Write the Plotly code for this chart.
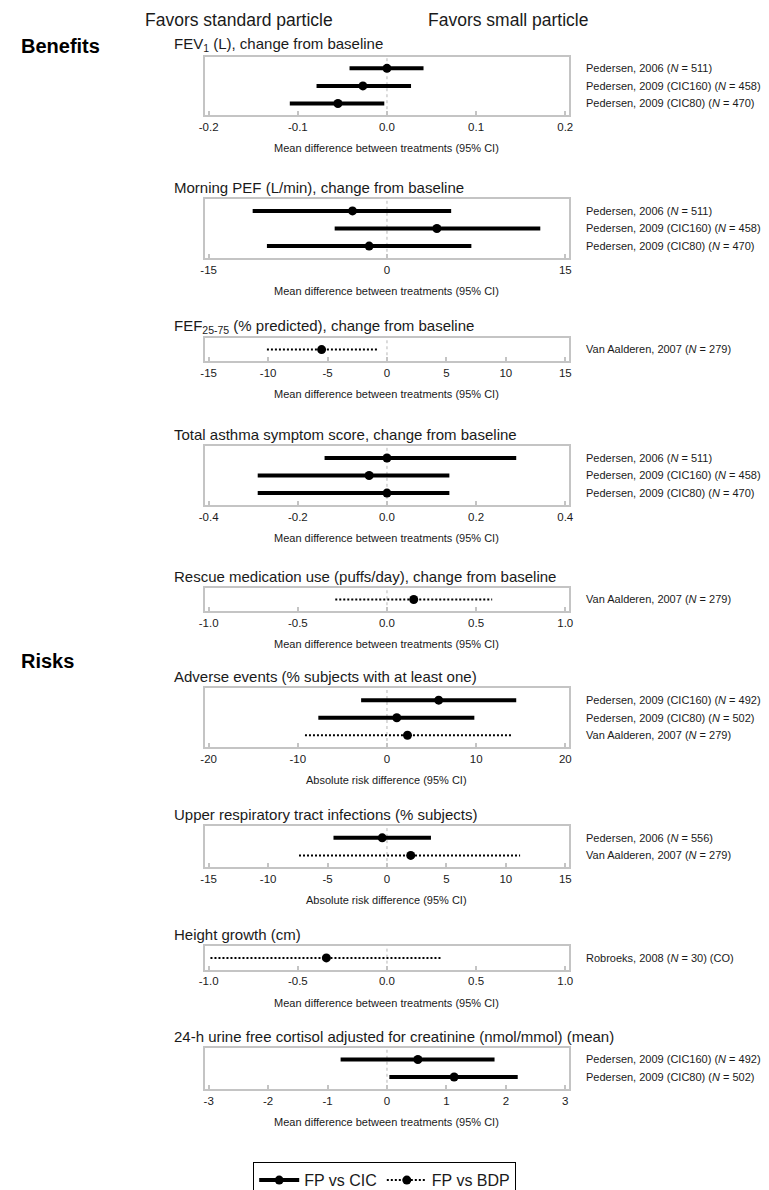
import plotly.graph_objects as go

W, H = 769, 1190
FONT = "Liberation Sans, Arial, sans-serif"
INK = "#1a1a1a"
FRAME = "#c4c4c4"

# ---------------- data ----------------
fev1_labels = ["Pedersen, 2006 (<i>N</i> = 511)",
               "Pedersen, 2009 (CIC160) (<i>N</i> = 458)",
               "Pedersen, 2009 (CIC80) (<i>N</i> = 470)"]
fev1_mean = [0.0, -0.027, -0.055]
fev1_low = [-0.042, -0.079, -0.109]
fev1_high = [0.041, 0.027, -0.003]
fev1_cmp = ["CIC", "CIC", "CIC"]
fev1_ticks = [-0.2, -0.1, 0.0, 0.1, 0.2]

pef_labels = fev1_labels
pef_mean = [-2.9, 4.2, -1.5]
pef_low = [-11.3, -4.4, -10.1]
pef_high = [5.4, 12.9, 7.1]
pef_cmp = ["CIC", "CIC", "CIC"]
pef_ticks = [-15, 0, 15]

fef_labels = ["Van Aalderen, 2007 (<i>N</i> = 279)"]
fef_mean = [-5.5]
fef_low = [-10.1]
fef_high = [-0.7]
fef_cmp = ["BDP"]
fef_ticks = [-15, -10, -5, 0, 5, 10, 15]

sym_labels = fev1_labels
sym_mean = [0.0, -0.04, 0.0]
sym_low = [-0.14, -0.29, -0.29]
sym_high = [0.29, 0.14, 0.14]
sym_cmp = ["CIC", "CIC", "CIC"]
sym_ticks = [-0.4, -0.2, 0.0, 0.2, 0.4]

rescue_labels = ["Van Aalderen, 2007 (<i>N</i> = 279)"]
rescue_mean = [0.15]
rescue_low = [-0.29]
rescue_high = [0.59]
rescue_cmp = ["BDP"]
rescue_ticks = [-1.0, -0.5, 0.0, 0.5, 1.0]

ae_labels = ["Pedersen, 2009 (CIC160) (<i>N</i> = 492)",
             "Pedersen, 2009 (CIC80) (<i>N</i> = 502)",
             "Van Aalderen, 2007 (<i>N</i> = 279)"]
ae_mean = [5.8, 1.1, 2.3]
ae_low = [-2.9, -7.7, -9.2]
ae_high = [14.5, 9.8, 14.1]
ae_cmp = ["CIC", "CIC", "BDP"]
ae_ticks = [-20, -10, 0, 10, 20]

urti_labels = ["Pedersen, 2006 (<i>N</i> = 556)",
               "Van Aalderen, 2007 (<i>N</i> = 279)"]
urti_mean = [-0.4, 2.0]
urti_low = [-4.5, -7.4]
urti_high = [3.7, 11.2]
urti_cmp = ["CIC", "BDP"]
urti_ticks = [-15, -10, -5, 0, 5, 10, 15]

height_labels = ["Robroeks, 2008 (<i>N</i> = 30) (CO)"]
height_mean = [-0.34]
height_low = [-0.99]
height_high = [0.30]
height_cmp = ["BDP"]
height_ticks = [-1.0, -0.5, 0.0, 0.5, 1.0]

cort_labels = ["Pedersen, 2009 (CIC160) (<i>N</i> = 492)",
               "Pedersen, 2009 (CIC80) (<i>N</i> = 502)"]
cort_mean = [0.52, 1.13]
cort_low = [-0.78, 0.04]
cort_high = [1.81, 2.2]
cort_cmp = ["CIC", "CIC"]
cort_ticks = [-3, -2, -1, 0, 1, 2, 3]

MD = "Mean difference between treatments (95% CI)"
ARD = "Absolute risk difference (95% CI)"

panels = [
    dict(title="FEV<sub>1</sub> (L), change from baseline", labels=fev1_labels, mean=fev1_mean,
         low=fev1_low, high=fev1_high, cmp=fev1_cmp, ticks=fev1_ticks, fmt="{:.1f}", xtitle=MD, top=58),
    dict(title="Morning PEF (L/min), change from baseline", labels=pef_labels, mean=pef_mean,
         low=pef_low, high=pef_high, cmp=pef_cmp, ticks=pef_ticks, fmt="{:d}", xtitle=MD, top=204),
    dict(title="FEF<sub>25-75</sub> (% predicted), change from baseline", labels=fef_labels, mean=fef_mean,
         low=fef_low, high=fef_high, cmp=fef_cmp, ticks=fef_ticks, fmt="{:d}", xtitle=MD, top=346),
    dict(title="Total asthma symptom score, change from baseline", labels=sym_labels, mean=sym_mean,
         low=sym_low, high=sym_high, cmp=sym_cmp, ticks=sym_ticks, fmt="{:.1f}", xtitle=MD, top=457),
    dict(title="Rescue medication use (puffs/day), change from baseline", labels=rescue_labels, mean=rescue_mean,
         low=rescue_low, high=rescue_high, cmp=rescue_cmp, ticks=rescue_ticks, fmt="{:.1f}", xtitle=MD, top=602),
    dict(title="Adverse events (% subjects with at least one)", labels=ae_labels, mean=ae_mean,
         low=ae_low, high=ae_high, cmp=ae_cmp, ticks=ae_ticks, fmt="{:d}", xtitle=ARD, top=705),
    dict(title="Upper respiratory tract infections (% subjects)", labels=urti_labels, mean=urti_mean,
         low=urti_low, high=urti_high, cmp=urti_cmp, ticks=urti_ticks, fmt="{:d}", xtitle=ARD, top=846),
    dict(title="Height growth (cm)", labels=height_labels, mean=height_mean,
         low=height_low, high=height_high, cmp=height_cmp, ticks=height_ticks, fmt="{:.1f}", xtitle=MD, top=969),
    dict(title="24-h urine free cortisol adjusted for creatinine (nmol/mmol) (mean)", labels=cort_labels,
         mean=cort_mean, low=cort_low, high=cort_high, cmp=cort_cmp, ticks=cort_ticks, fmt="{:d}", xtitle=MD,
         top=1073),
]

# ---------------- geometry (pixels) ----------------
BOX_L, BOX_R = 202, 571
TITLE_X = 168
ROW_GAP = 18
PAD = 12
STYLE = {
    "CIC": dict(width=4, dash="solid"),
    "BDP": dict(width=2, dash="2px,2px"),
}

def px_x(v):
    return v / W

def px_y(v):
    return 1 - v / H

fig = go.Figure()
layout = dict(
    width=W, height=H,
    margin=dict(l=0, r=0, t=0, b=0),
    paper_bgcolor="white", plot_bgcolor="white",
    font=dict(family=FONT, color=INK),
    showlegend=True,
)
annotations = []
shapes = []

for i, p in enumerate(panels, start=1):
    n = len(p["labels"])
    top = p["top"]
    bottom = top + ROW_GAP * (n - 1) + 2 * PAD
    xa = "x" if i == 1 else f"x{i}"
    ya = "y" if i == 1 else f"y{i}"
    rows = list(range(n))
    m = max(abs(t) for t in p["ticks"])

    for r, lo, hi, mu, c in zip(rows, p["low"], p["high"], p["mean"], p["cmp"]):
        st = STYLE[c]
        fig.add_trace(go.Scatter(
            x=[lo, hi], y=[r, r], mode="lines", xaxis=xa, yaxis=ya,
            line=dict(color="black", width=st["width"], dash=st["dash"]),
            showlegend=False, hoverinfo="skip"))
        fig.add_trace(go.Scatter(
            x=[mu], y=[r], mode="markers", xaxis=xa, yaxis=ya,
            marker=dict(color="black", size=9, symbol="circle"),
            showlegend=False))

    layout["xaxis" if i == 1 else f"xaxis{i}"] = dict(
        domain=[px_x(BOX_L), px_x(BOX_R)],
        anchor=ya, range=[-1.02 * m, 1.02 * m],
        tickvals=p["ticks"], ticktext=[p["fmt"].format(t) for t in p["ticks"]],
        ticks="inside", ticklen=4, tickwidth=1.5, tickcolor=FRAME,
        tickfont=dict(size=11.5, color=INK, family=FONT),
        showline=True, linecolor=FRAME, linewidth=2, mirror=True,
        showgrid=False, zeroline=False, fixedrange=True,
    )
    layout["yaxis" if i == 1 else f"yaxis{i}"] = dict(
        domain=[px_y(bottom), px_y(top)],
        anchor=xa, side="right",
        range=[n - 1 + PAD / ROW_GAP, -PAD / ROW_GAP],
        tickvals=rows, ticktext=p["labels"], ticks="",
        ticklabelstandoff=13,
        tickfont=dict(size=11, color=INK, family=FONT),
        showline=True, linecolor=FRAME, linewidth=2, mirror=True,
        showgrid=False, zeroline=False, fixedrange=True,
    )
    shapes.append(dict(type="line", xref=xa, yref=f"{ya} domain",
                       x0=0, x1=0, y0=0, y1=1, layer="below",
                       line=dict(color="#b8b8b8", width=1, dash="3px,3px")))
    annotations.append(dict(text=p["title"], x=px_x(TITLE_X), y=px_y(top - 12),
                            xref="paper", yref="paper", xanchor="left", yanchor="middle",
                            showarrow=False, font=dict(size=15, color=INK, family=FONT)))
    annotations.append(dict(text=p["xtitle"], x=px_x((BOX_L + BOX_R) / 2), y=px_y(bottom + 34),
                            xref="paper", yref="paper", xanchor="center", yanchor="middle",
                            showarrow=False, font=dict(size=11, color=INK, family=FONT)))

# column headers and section labels
annotations += [
    dict(text="Favors standard particle", x=px_x(236), y=px_y(20), xref="paper", yref="paper",
         xanchor="center", yanchor="middle",
         showarrow=False, font=dict(size=17.5, color=INK, family=FONT)),
    dict(text="Favors small particle", x=px_x(509), y=px_y(20), xref="paper", yref="paper",
         xanchor="center", yanchor="middle",
         showarrow=False, font=dict(size=17.5, color=INK, family=FONT)),
    dict(text="<b>Benefits</b>", x=px_x(13), y=px_y(47), xref="paper", yref="paper",
         xanchor="left", yanchor="middle",
         showarrow=False, font=dict(size=20, color="black", family=FONT)),
    dict(text="<b>Risks</b>", x=px_x(13), y=px_y(677), xref="paper", yref="paper",
         xanchor="left", yanchor="middle",
         showarrow=False, font=dict(size=20, color="black", family=FONT)),
]

# legend entries
for name, c in [("FP vs CIC", "CIC"), ("FP vs BDP", "BDP")]:
    st = STYLE[c]
    fig.add_trace(go.Scatter(
        x=[None], y=[None], mode="lines+markers", name=name,
        line=dict(color="black", width=st["width"], dash=st["dash"]),
        marker=dict(color="black", size=9)))

layout["legend"] = dict(
    orientation="h", xref="container", yref="container",
    x=0.5, xanchor="center", y=px_y(1162), yanchor="top",
    bordercolor="black", borderwidth=1.2, bgcolor="white",
    font=dict(size=16, color=INK, family=FONT), itemwidth=40,
)
layout["annotations"] = annotations
layout["shapes"] = shapes
fig.update_layout(**layout)

fig.write_html("out.html")
